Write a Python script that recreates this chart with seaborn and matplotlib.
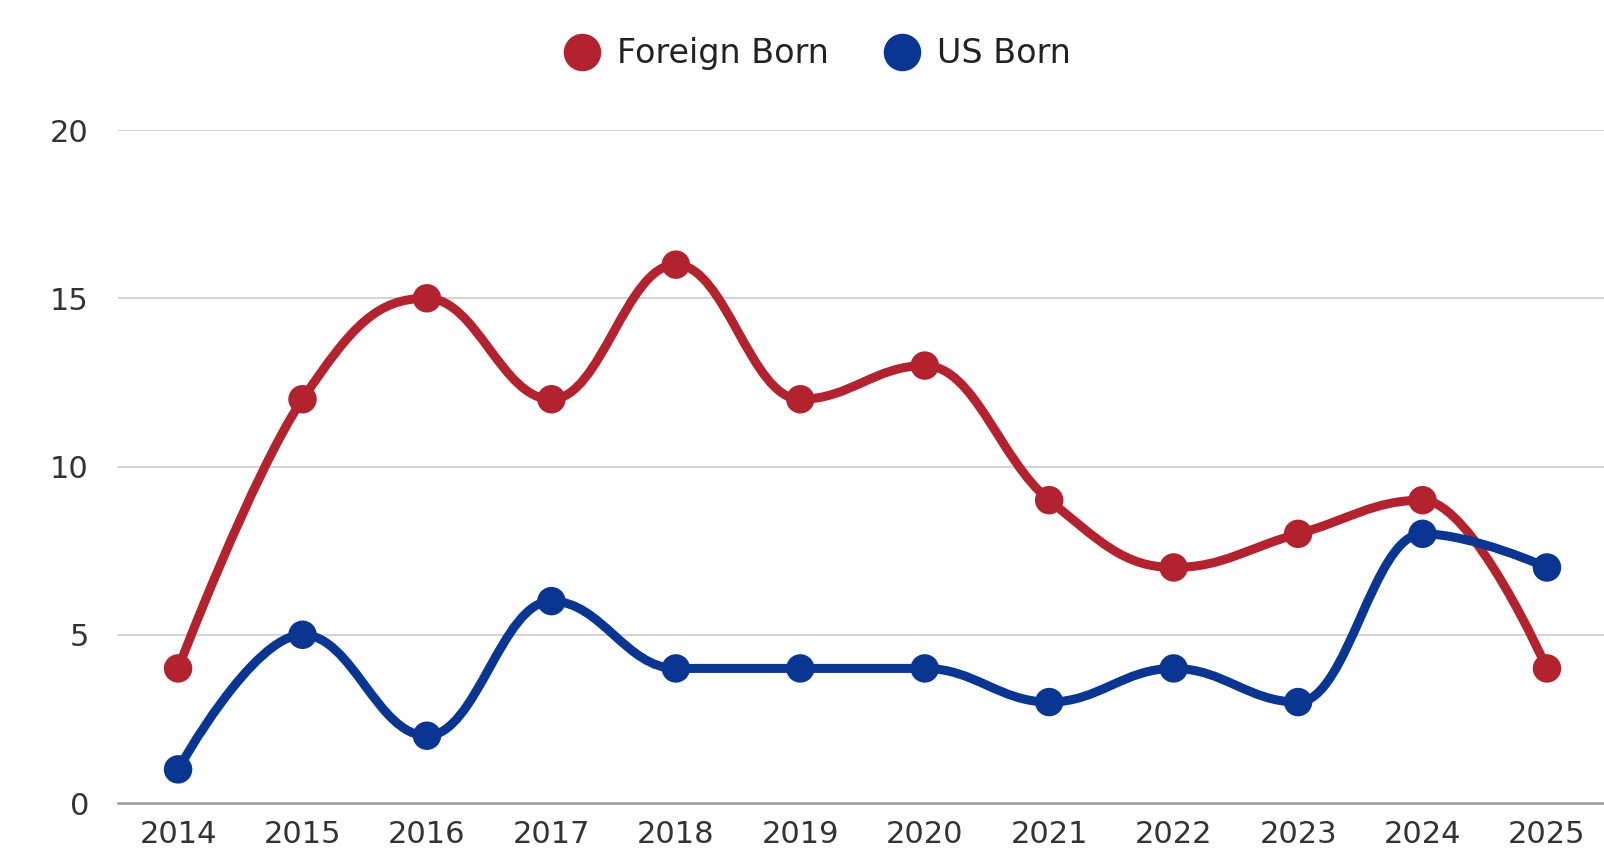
import numpy as np
import pandas as pd
import matplotlib
matplotlib.use("Agg")
import matplotlib.pyplot as plt
import seaborn as sns
from matplotlib.path import Path
from matplotlib.patches import PathPatch
from matplotlib.lines import Line2D

years = [2014, 2015, 2016, 2017, 2018, 2019, 2020, 2021, 2022, 2023, 2024, 2025]
foreign_born = [4, 12, 15, 12, 16, 12, 13, 9, 7, 8, 9, 4]
us_born = [1, 5, 2, 6, 4, 4, 4, 3, 4, 3, 8, 7]
y_ticks = [0, 5, 10, 15, 20]

RED = "#b3232f"
BLUE = "#0a3590"

sns.set_theme(style="white")
plt.rcParams["font.family"] = ["DejaVu Sans"]


# spline like the original chart: bezier control points that keep a
# straight tangent through each point and avoid false extremes
def spline_path(xs, ys, smoothing=1.5):
    n = len(xs)
    lc = [None] * n
    rc = [None] * n
    denom = smoothing + 1
    for i in range(1, n - 1):
        x, y = xs[i], ys[i]
        lx, ly = xs[i - 1], ys[i - 1]
        nx, ny = xs[i + 1], ys[i + 1]
        lcx = (smoothing * x + lx) / denom
        lcy = (smoothing * y + ly) / denom
        rcx = (smoothing * x + nx) / denom
        rcy = (smoothing * y + ny) / denom
        corr = 0
        if rcx != lcx:
            corr = (rcy - lcy) * (rcx - x) / (rcx - lcx) + y - rcy
        lcy += corr
        rcy += corr
        if lcy > ly and lcy > y:
            lcy = max(ly, y)
            rcy = 2 * y - lcy
        elif lcy < ly and lcy < y:
            lcy = min(ly, y)
            rcy = 2 * y - lcy
        if rcy > ny and rcy > y:
            rcy = max(ny, y)
            lcy = 2 * y - rcy
        elif rcy < ny and rcy < y:
            rcy = min(ny, y)
            lcy = 2 * y - rcy
        lc[i] = (lcx, lcy)
        rc[i] = (rcx, rcy)
    verts = [(xs[0], ys[0])]
    codes = [Path.MOVETO]
    for i in range(1, n):
        c1 = rc[i - 1] if rc[i - 1] is not None else (xs[i - 1], ys[i - 1])
        c2 = lc[i] if lc[i] is not None else (xs[i], ys[i])
        verts += [c1, c2, (xs[i], ys[i])]
        codes += [Path.CURVE4] * 3
    return Path(verts, codes)


df = pd.DataFrame({
    "year": years * 2,
    "value": foreign_born + us_born,
    "group": ["Foreign Born"] * len(years) + ["US Born"] * len(years),
})

fig = plt.figure(figsize=(16.04, 8.67), dpi=100)
ax = fig.add_axes([0.0736, 0.0738, 0.9264, 0.7762])

for ys, col in [(foreign_born, RED), (us_born, BLUE)]:
    ax.add_patch(PathPatch(spline_path(years, ys), facecolor="none",
                           edgecolor=col, lw=6.5, capstyle="round",
                           joinstyle="round", zorder=3))

sns.scatterplot(data=df, x="year", y="value", hue="group",
                palette={"Foreign Born": RED, "US Born": BLUE},
                s=420, edgecolor="none", legend=False, ax=ax, zorder=4)

ax.set_xlim(2014 - 60 / 124.4, 2025 + 57 / 124.4)
ax.set_ylim(0, 20)
ax.set_yticks(y_ticks)
ax.set_xticks(years)
ax.set_xticklabels([str(y) for y in years])
ax.set_xlabel("")
ax.set_ylabel("")
ax.tick_params(axis="both", length=0, labelsize=22, colors="#333333")
ax.tick_params(axis="x", pad=12)
ax.tick_params(axis="y", pad=21)

for v in y_ticks[1:]:
    ax.axhline(v, color="#d4d4d4", lw=1.5, zorder=1)
for side in ["top", "right", "left"]:
    ax.spines[side].set_visible(False)
ax.spines["bottom"].set_color("#9a9a9a")
ax.spines["bottom"].set_linewidth(1.8)

handles = [Line2D([], [], marker="o", ls="none", color=RED, markersize=26),
           Line2D([], [], marker="o", ls="none", color=BLUE, markersize=26)]
fig.legend(handles, ["Foreign Born", "US Born"], loc="center",
           bbox_to_anchor=(0.505, 0.938), ncol=2, frameon=False,
           fontsize=24, handletextpad=0.05, columnspacing=1.2,
           labelcolor="#222222")

fig.savefig("out.png", dpi=100)
